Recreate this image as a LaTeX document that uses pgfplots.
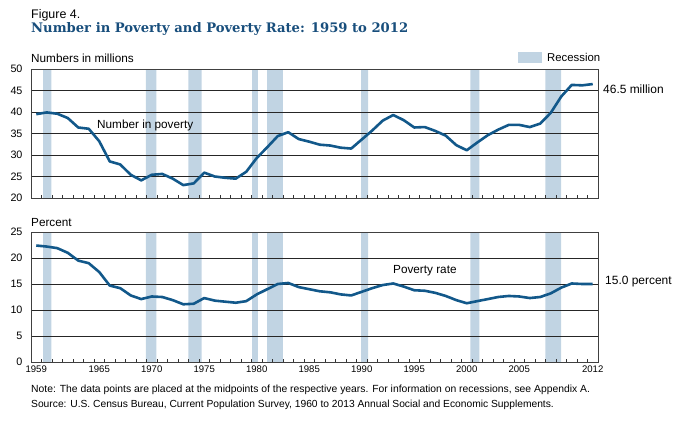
\documentclass[border=0pt]{standalone}
\usepackage{fontspec}
\setmainfont{Liberation Sans}
\newfontfamily\titlefont{DejaVu Serif}
\usepackage{pgfplots}
\usepackage{pgfplotstable}
\pgfplotsset{compat=1.18}
\definecolor{povblue}{RGB}{18,88,138}
\definecolor{titleblue}{RGB}{24,78,124}
\definecolor{recess}{RGB}{193,212,227}

\pgfplotstableread{
year num rate
1959.5 39.5 22.4
1960.5 39.9 22.2
1961.5 39.6 21.9
1962.5 38.6 21.0
1963.5 36.4 19.5
1964.5 36.1 19.0
1965.5 33.2 17.3
1966.5 28.5 14.7
1967.5 27.8 14.2
1968.5 25.4 12.8
1969.5 24.1 12.1
1970.5 25.4 12.6
1971.5 25.6 12.5
1972.5 24.5 11.9
1973.5 23.0 11.1
1974.5 23.4 11.2
1975.5 25.9 12.3
1976.5 25.0 11.8
1977.5 24.7 11.6
1978.5 24.5 11.4
1979.5 26.1 11.7
1980.5 29.3 13.0
1981.5 31.8 14.0
1982.5 34.4 15.0
1983.5 35.3 15.2
1984.5 33.7 14.4
1985.5 33.1 14.0
1986.5 32.4 13.6
1987.5 32.2 13.4
1988.5 31.7 13.0
1989.5 31.5 12.8
1990.5 33.6 13.5
1991.5 35.7 14.2
1992.5 38.0 14.8
1993.5 39.3 15.1
1994.5 38.1 14.5
1995.5 36.4 13.8
1996.5 36.5 13.7
1997.5 35.6 13.3
1998.5 34.5 12.7
1999.5 32.3 11.9
2000.5 31.1 11.3
2001.5 32.9 11.7
2002.5 34.6 12.1
2003.5 35.9 12.5
2004.5 37.0 12.7
2005.5 37.0 12.6
2006.5 36.5 12.3
2007.5 37.3 12.5
2008.5 39.8 13.2
2009.5 43.6 14.3
2010.5 46.3 15.1
2011.5 46.2 15.0
2012.5 46.5 15.0
}\povdata

\newcommand{\recession}[4]{\addplot[draw=none,fill=recess,forget plot] coordinates {(#1,#3) (#1,#4) (#2,#4) (#2,#3) (#1,#3)};}
\newcommand{\hgrid}[1]{\addplot[black!85, line width=0.7bp, forget plot] coordinates {(1959,#1) (2013,#1)};}

\pgfplotsset{povaxis/.style={
  scale only axis, width=567bp, xmin=1959, xmax=2013,
  axis line style={draw=black!75, line width=0.8bp},
  ytick style={draw=none},
  xtick={1959.5,1965.5,1970.5,1975.5,1980.5,1985.5,1990.5,1995.5,2000.5,2005.5,2012.5},
  xticklabels={1959,1965,1970,1975,1980,1985,1990,1995,2000,2005,2012},
  major x tick style={draw=none},
  minor xtick={1959,1960,...,2013},
  minor x tick style={draw=black!80, line width=0.6bp},
  minor tick length=3bp,
  tick align=inside,
  xtick pos=left,
  axis on top,
  /pgf/number format/assume math mode=true,
  yticklabel style={font=\fontsize{10.8}{12}\selectfont, xshift=-5bp},
  xticklabel style={font=\fontsize{9.6}{11}\selectfont},
}}

\begin{document}
\begin{tikzpicture}
\path (0,0) rectangle (679bp,-422bp);
\node[anchor=base west, inner sep=0, font=\fontsize{12.5}{14}\selectfont] at (31bp,-18bp) {Figure 4.};
\node[anchor=base west, inner sep=0, text=titleblue, font=\titlefont\bfseries\fontsize{13.2}{15}\selectfont] at (31bp,-32.5bp) {Number in Poverty and Poverty Rate: 1959 to 2012};
\node[anchor=base west, inner sep=0, font=\fontsize{11.8}{13}\selectfont] at (31bp,-62.5bp) {Numbers in millions};
\node[anchor=base west, inner sep=0, font=\fontsize{11.8}{13}\selectfont] at (31bp,-226bp) {Percent};
\fill[recess] (518bp,-52bp) rectangle (542bp,-63bp);
\node[anchor=west, inner sep=0, font=\fontsize{11.4}{13}\selectfont] at (547bp,-57.5bp) {Recession};

\begin{axis}[povaxis, at={(31bp,-69bp)}, anchor=north west, height=129bp,
  ymin=20, ymax=50, ytick={20,25,...,50}, xticklabels={}]
\recession{1960.15}{1960.95}{20}{50}
\recession{1969.95}{1970.95}{20}{50}
\recession{1974.0}{1975.25}{20}{50}
\recession{1980.05}{1980.6}{20}{50}
\recession{1981.5}{1983.0}{20}{50}
\recession{1990.45}{1991.1}{20}{50}
\recession{2000.85}{2001.7}{20}{50}
\recession{2008.0}{2009.5}{20}{50}
\hgrid{25}\hgrid{30}\hgrid{35}\hgrid{40}\hgrid{45}
\addplot[povblue, line width=2.6bp, line join=round, no marks] table[x=year, y=num] {\povdata};
\end{axis}

\begin{axis}[povaxis, at={(31bp,-232bp)}, anchor=north west, height=130bp,
  ymin=0, ymax=25, ytick={0,5,...,25}]
\recession{1960.15}{1960.95}{0}{25}
\recession{1969.95}{1970.95}{0}{25}
\recession{1974.0}{1975.25}{0}{25}
\recession{1980.05}{1980.6}{0}{25}
\recession{1981.5}{1983.0}{0}{25}
\recession{1990.45}{1991.1}{0}{25}
\recession{2000.85}{2001.7}{0}{25}
\recession{2008.0}{2009.5}{0}{25}
\hgrid{5}\hgrid{10}\hgrid{15}\hgrid{20}
\addplot[povblue, line width=2.6bp, line join=round, no marks] table[x=year, y=rate] {\povdata};
\end{axis}

\node[anchor=west, inner sep=0, font=\fontsize{11.8}{13}\selectfont] at (97bp,-125.7bp) {Number in poverty};
\node[anchor=west, inner sep=0, font=\fontsize{11.8}{13}\selectfont] at (393bp,-271bp) {Poverty rate};
\node[anchor=west, inner sep=0, font=\fontsize{12}{13}\selectfont] at (603bp,-89bp) {46.5 million};
\node[anchor=west, inner sep=0, font=\fontsize{12}{13}\selectfont] at (605bp,-281.7bp) {15.0 percent};
\node[anchor=west, inner sep=0, font=\fontsize{10.4}{12}\selectfont] at (31bp,-389.5bp) {Note: The data points are placed at the midpoints of the respective years. For information on recessions, see Appendix A.};
\node[anchor=west, inner sep=0, font=\fontsize{10.3}{12}\selectfont] at (31bp,-405bp) {Source: U.S. Census Bureau, Current Population Survey, 1960 to 2013 Annual Social and Economic Supplements.};
\end{tikzpicture}
\end{document}
